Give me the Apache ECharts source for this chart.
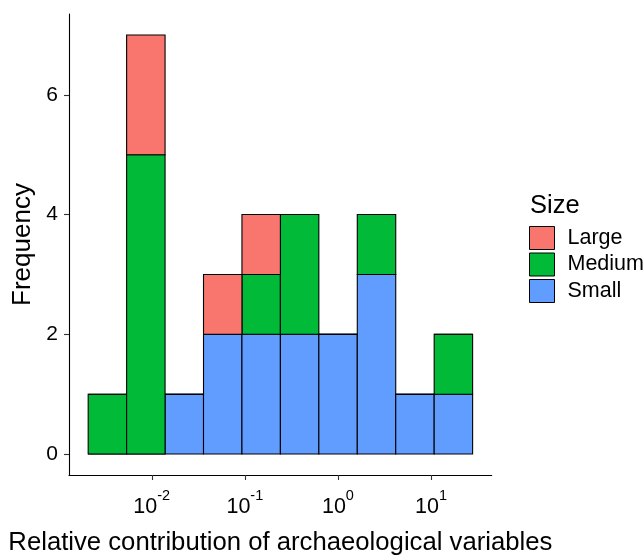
<!DOCTYPE html>
<html><head><meta charset="utf-8">
<script src="https://cdn.jsdelivr.net/npm/echarts@6/dist/echarts.min.js"></script>
<style>html,body{margin:0;padding:0;background:#fff}#c{width:644px;height:555px}</style>
</head><body><div id="c"></div>
<script>
// log10 histogram bin edges
const binEdges = [-2.683, -2.270, -1.857, -1.444, -1.031, -0.618, -0.205, 0.208, 0.621, 1.034, 1.447];
const sizeNames = ['Small', 'Medium', 'Large'];
const smallCounts  = [0, 0, 1, 2, 2, 2, 2, 3, 1, 1];
const mediumCounts = [1, 5, 0, 0, 1, 2, 0, 1, 0, 1];
const largeCounts  = [0, 2, 0, 1, 1, 0, 0, 0, 0, 0];
const sizeColors = ['#619CFF', '#00BA38', '#F8766D'];
const xTickValues = [-2, -1, 0, 1];
const xTickExponents = ['-2', '-1', '0', '1'];
const yTickValues = [0, 2, 4, 6];
const legendOrder = ['Large', 'Medium', 'Small'];

const countsBySize = [smallCounts, mediumCounts, largeCounts];
const FONT = '"Liberation Sans", Arial, sans-serif';

function renderItem(params, api) {
  const p0 = api.coord([api.value(0), api.value(3)]);
  const p1 = api.coord([api.value(1), api.value(2)]);
  return {
    type: 'rect',
    shape: { x: p0[0], y: p0[1], width: p1[0] - p0[0], height: p1[1] - p0[1] },
    style: { fill: api.visual('color'), stroke: '#000', lineWidth: 1.1 }
  };
}

const stackBase = binEdges.slice(1).map(() => 0);
const series = sizeNames.map((name, s) => {
  const data = countsBySize[s].map((c, i) => {
    const y0 = stackBase[i];
    const y1 = y0 + c;
    stackBase[i] = y1;
    return [binEdges[i], binEdges[i + 1], y0, y1];
  });
  return {
    type: 'custom', name: name, renderItem: renderItem,
    itemStyle: { color: sizeColors[s], borderColor: '#000', borderWidth: 1 },
    encode: { x: [0, 1], y: [2, 3] },
    data: data, z: 2 + s
  };
});

const chart = echarts.init(document.getElementById('c'), null, { renderer: 'canvas' });
chart.setOption({
  animation: false,
  backgroundColor: '#fff',
  grid: { left: 69, right: 152.3, top: 14, bottom: 80, outerBoundsMode: 'none', containLabel: false },
  xAxis: {
    type: 'value', min: -2.889, max: 1.652,
    name: 'Relative contribution of archaeological variables',
    nameLocation: 'middle', nameGap: 55,
    nameTextStyle: { fontFamily: FONT, fontSize: 25.7, color: '#000' },
    axisLine: { onZero: false, lineStyle: { color: '#000', width: 1.1 } },
    axisTick: { customValues: xTickValues, length: 5, lineStyle: { color: '#333', width: 1.1 } },
    axisLabel: {
      customValues: xTickValues, margin: 13, fontSize: 21.5, fontFamily: FONT, color: '#000',
      formatter: function (v) {
        const k = xTickValues.indexOf(Math.round(v));
        return '{b|10}{s|' + xTickExponents[k] + '}';
      },
      rich: {
        b: { fontFamily: FONT, fontSize: 21.5, lineHeight: 30, color: '#000', verticalAlign: 'bottom' },
        s: { fontFamily: FONT, fontSize: 14.5, lineHeight: 14, color: '#000', verticalAlign: 'top' }
      }
    },
    splitLine: { show: false }
  },
  yAxis: {
    type: 'value', min: -0.35, max: 7.35,
    name: 'Frequency', nameLocation: 'middle', nameGap: 23,
    nameTextStyle: { fontFamily: FONT, fontSize: 26, color: '#000' },
    axisLine: { show: true, onZero: false, lineStyle: { color: '#000', width: 1.1 } },
    axisTick: { show: true, customValues: yTickValues, length: 5, lineStyle: { color: '#333', width: 1.1 } },
    axisLabel: { customValues: yTickValues, margin: 11, fontFamily: FONT, fontSize: 21, color: '#000' },
    splitLine: { show: false }
  },
  legend: {
    orient: 'vertical', left: 529, top: 226, padding: 0,
    itemWidth: 25, itemHeight: 23, itemGap: 2.5, icon: 'rect',
    data: legendOrder.map(n => ({
      name: n,
      itemStyle: { color: sizeColors[sizeNames.indexOf(n)], borderColor: '#000', borderWidth: 1 }
    })),
    textStyle: { fontFamily: FONT, fontSize: 21.5, color: '#000', lineHeight: 23, padding: [0, 0, 0, 8] },
    selectedMode: false
  },
  graphic: [{
    type: 'text', left: 530, top: 193,
    style: { text: 'Size', font: '25.5px ' + FONT, fill: '#000' }
  }],
  series: series
});
</script></body></html>
